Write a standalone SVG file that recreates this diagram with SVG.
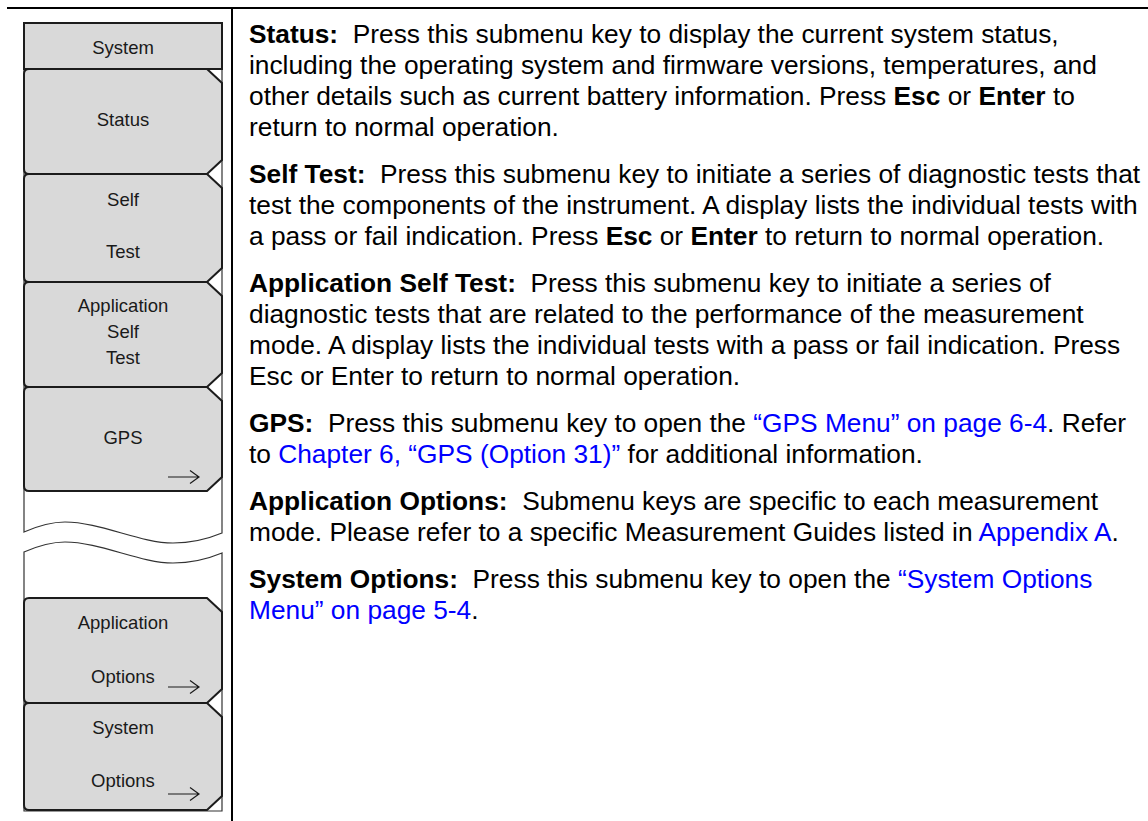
<svg xmlns="http://www.w3.org/2000/svg" width="1148" height="821" viewBox="0 0 1148 821">
<style>
.rule{stroke:#000;stroke-width:2;fill:none}
.frame{fill:#fff;stroke:#333;stroke-width:1.2}
.btn{fill:#d9d9d9;stroke:#1c1c1c;stroke-width:2;stroke-linejoin:miter}
.lbl{font-family:"Liberation Sans",Arial,sans-serif;font-size:18.5px;fill:#1a1a1a;text-anchor:middle}
.arr{stroke:#1a1a1a;stroke-width:1.2;fill:none}
.body text{font-family:"Liberation Sans",Arial,sans-serif;font-size:26.3px;fill:#000;white-space:pre}
.b{font-weight:bold}
.lnk{fill:#0000ff}
</style>
<defs>
<path id="arrow" d="M168,0 H199 M190,-6.5 L199,0 L190,6.5" class="arr"/>
</defs>

<g id="rules">
<line class="rule" x1="7" y1="8" x2="1148" y2="8"/>
<line class="rule" x1="232" y1="8" x2="232" y2="821"/>
</g>

<g id="panel-frame">
<path class="frame" d="M24,532 L24,23 L222,23 L222,533 C210,538 195,543 173,543 C140,543 100,522 65,522 C52,522 40,525 24,532 Z"/>
<path class="frame" d="M24,552 C40,545 52,542 65,542 C100,542 140,563 173,563 C195,563 210,558 222,553 L222,811 L24,811 Z"/>
</g>

<g id="node-system">
<rect class="btn" x="24" y="23" width="198" height="46"/>
<text class="lbl" x="123" y="54">System</text>
</g>

<g id="node-status">
<path class="btn" d="M29,69 L207,69 L222,83 L222,160 L207,174 L29,174 Q24,174 24,169 L24,74 Q24,69 29,69 Z"/>
<text class="lbl" x="123" y="126">Status</text>
</g>

<g id="node-self-test">
<path class="btn" d="M29,174 L207,174 L222,188 L222,268 L207,282 L29,282 Q24,282 24,277 L24,179 Q24,174 29,174 Z"/>
<text class="lbl" x="123" y="206">Self</text>
<text class="lbl" x="123" y="258">Test</text>
</g>

<g id="node-application-self-test">
<path class="btn" d="M29,282 L207,282 L222,296 L222,373 L207,387 L29,387 Q24,387 24,382 L24,287 Q24,282 29,282 Z"/>
<text class="lbl" x="123" y="312">Application</text>
<text class="lbl" x="123" y="338">Self</text>
<text class="lbl" x="123" y="364">Test</text>
</g>

<g id="node-gps">
<path class="btn" d="M29,387 L207,387 L222,401 L222,477 L207,491 L29,491 Q24,491 24,486 L24,392 Q24,387 29,387 Z"/>
<text class="lbl" x="123" y="444">GPS</text>
<use href="#arrow" y="477"/>
</g>

<g id="node-application-options">
<path class="btn" d="M29,598 L207,598 L222,612 L222,689 L207,703 L29,703 Q24,703 24,698 L24,603 Q24,598 29,598 Z"/>
<text class="lbl" x="123" y="629">Application</text>
<text class="lbl" x="123" y="683">Options</text>
<use href="#arrow" y="687"/>
</g>

<g id="node-system-options">
<path class="btn" d="M29,703 L207,703 L222,717 L222,796 L207,810 L29,810 Q24,810 24,805 L24,708 Q24,703 29,703 Z"/>
<text class="lbl" x="123" y="734">System</text>
<text class="lbl" x="123" y="787">Options</text>
<use href="#arrow" y="794"/>
</g>

<g id="connectors"></g>

<g id="descriptions" class="body">
<text x="249" y="43"><tspan class="b">Status:</tspan>  Press this submenu key to display the current system status,</text>
<text x="249" y="74">including the operating system and firmware versions, temperatures, and</text>
<text x="249" y="105">other details such as current battery information. Press <tspan class="b">Esc</tspan> or <tspan class="b">Enter</tspan> to</text>
<text x="249" y="136">return to normal operation.</text>

<text x="249" y="183"><tspan class="b">Self Test:</tspan>  Press this submenu key to initiate a series of diagnostic tests that</text>
<text x="249" y="214">test the components of the instrument. A display lists the individual tests with</text>
<text x="249" y="245">a pass or fail indication. Press <tspan class="b">Esc</tspan> or <tspan class="b">Enter</tspan> to return to normal operation.</text>

<text x="249" y="292"><tspan class="b">Application Self Test:</tspan>  Press this submenu key to initiate a series of</text>
<text x="249" y="323">diagnostic tests that are related to the performance of the measurement</text>
<text x="249" y="354">mode. A display lists the individual tests with a pass or fail indication. Press</text>
<text x="249" y="385">Esc or Enter to return to normal operation.</text>

<text x="249" y="432"><tspan class="b">GPS:</tspan>  Press this submenu key to open the <tspan class="lnk">“GPS Menu” on page 6-4</tspan>. Refer</text>
<text x="249" y="463">to <tspan class="lnk">Chapter 6, “GPS (Option 31)”</tspan> for additional information.</text>

<text x="249" y="510"><tspan class="b">Application Options:</tspan>  Submenu keys are specific to each measurement</text>
<text x="249" y="541">mode. Please refer to a specific Measurement Guides listed in <tspan class="lnk">Appendix A</tspan>.</text>

<text x="249" y="588"><tspan class="b">System Options:</tspan>  Press this submenu key to open the <tspan class="lnk">“System Options</tspan></text>
<text x="249" y="619"><tspan class="lnk">Menu” on page 5-4</tspan>.</text>
</g>
</svg>
